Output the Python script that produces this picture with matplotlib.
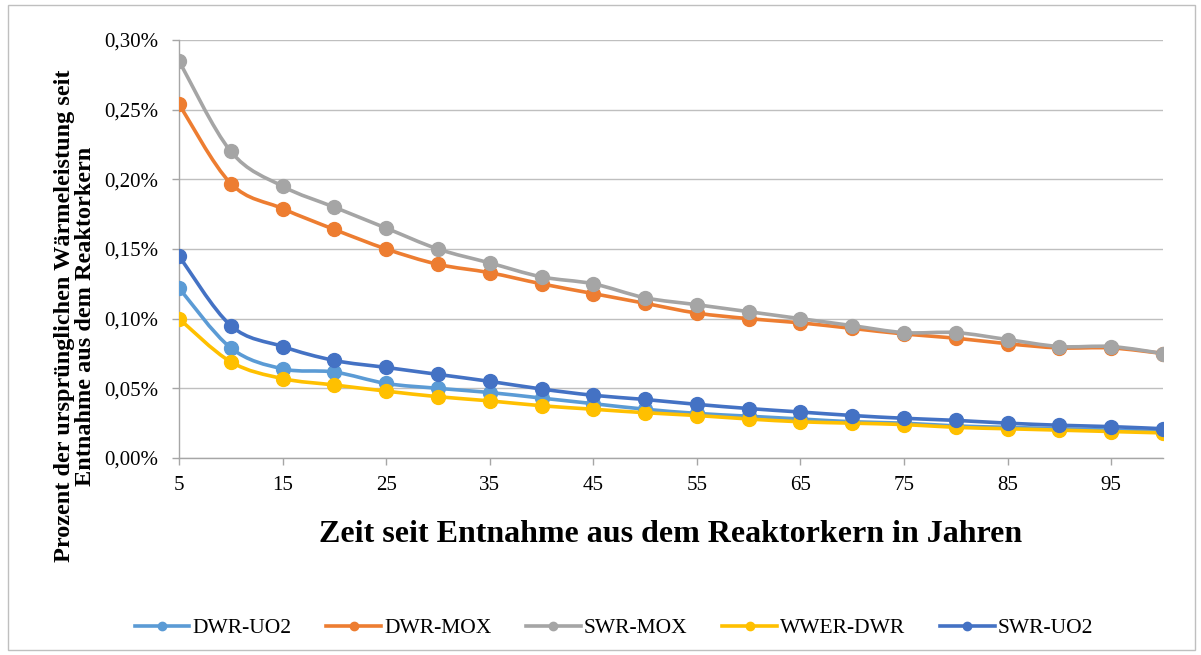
import numpy as np
import matplotlib
matplotlib.use("Agg")
import matplotlib.pyplot as plt
from matplotlib.path import Path
from matplotlib.patches import PathPatch, Rectangle
from matplotlib.lines import Line2D
from matplotlib.ticker import FuncFormatter

plt.rcParams['font.family'] = ['Liberation Serif', 'DejaVu Serif']

# Jahre seit Entnahme
years = [5, 10, 15, 20, 25, 30, 35, 40, 45, 50, 55, 60, 65, 70, 75, 80, 85, 90, 95, 100]

# Werte in Prozent
dwr_uo2 = [0.122, 0.079, 0.064, 0.0617, 0.0535, 0.050, 0.047, 0.043, 0.039, 0.035,
           0.032, 0.030, 0.028, 0.026, 0.025, 0.023, 0.022, 0.021, 0.020, 0.019]
dwr_mox = [0.254, 0.197, 0.179, 0.164, 0.150, 0.139, 0.133, 0.125, 0.118, 0.111,
           0.104, 0.100, 0.097, 0.093, 0.089, 0.086, 0.082, 0.079, 0.079, 0.075]
swr_mox = [0.285, 0.220, 0.195, 0.180, 0.165, 0.150, 0.140, 0.130, 0.125, 0.115,
           0.110, 0.105, 0.100, 0.095, 0.090, 0.090, 0.085, 0.080, 0.080, 0.075]
wwer_dwr = [0.100, 0.069, 0.057, 0.0524, 0.048, 0.044, 0.041, 0.0375, 0.035, 0.0325,
            0.0305, 0.028, 0.026, 0.025, 0.024, 0.022, 0.021, 0.020, 0.019, 0.018]
swr_uo2 = [0.145, 0.095, 0.080, 0.070, 0.065, 0.060, 0.055, 0.0495, 0.045, 0.042,
           0.0385, 0.0355, 0.033, 0.0305, 0.0285, 0.027, 0.025, 0.0235, 0.0225, 0.021]

names = ["DWR-UO2", "DWR-MOX", "SWR-MOX", "WWER-DWR", "SWR-UO2"]
series = [dwr_uo2, dwr_mox, swr_mox, wwer_dwr, swr_uo2]
colors = ["#5B9BD5", "#ED7D31", "#A5A5A5", "#FFC000", "#4472C4"]


def smooth_path(x, y, t=1/6):
    # Bezier-Kurve wie Excel "geglättete Linie"
    x = np.asarray(x, float)
    y = np.asarray(y, float)
    verts = [(x[0], y[0])]
    codes = [Path.MOVETO]
    n = len(x)
    for i in range(n - 1):
        p0 = np.array([x[max(i - 1, 0)], y[max(i - 1, 0)]])
        p1 = np.array([x[i], y[i]])
        p2 = np.array([x[i + 1], y[i + 1]])
        p3 = np.array([x[min(i + 2, n - 1)], y[min(i + 2, n - 1)]])
        c1 = p1 + (p2 - p0) * t
        c2 = p2 - (p3 - p1) * t
        verts += [tuple(c1), tuple(c2), tuple(p2)]
        codes += [Path.CURVE4] * 3
    return Path(verts, codes)


W, H = 1201, 655
fig = plt.figure(figsize=(W / 100, H / 100), dpi=100)
ax = fig.add_axes([179 / W, 1 - 458 / H, (1163 - 179) / W, (458 - 40) / H])

handles = []
for name, vals, c in zip(names, series, colors):
    ax.add_patch(PathPatch(smooth_path(years, vals), facecolor='none', edgecolor=c,
                           lw=2.6, zorder=3, capstyle='round'))
    ax.plot(years, vals, 'o', color=c, markersize=10, zorder=4)
    handles.append(Line2D([], [], color=c, lw=2.6, marker='o', markersize=6))

ax.set_xlim(5, 100)
ax.set_ylim(0, 0.30)
ax.set_xticks(range(5, 100, 10))
ax.set_yticks(np.arange(0, 0.301, 0.05))
ax.yaxis.set_major_formatter(FuncFormatter(lambda v, p: f"{v:.2f}".replace('.', ',') + "%"))
ax.grid(axis='y', color='#BFBFBF', lw=1)
ax.set_axisbelow(True)
for s in ['top', 'right']:
    ax.spines[s].set_visible(False)
for s in ['left', 'bottom']:
    ax.spines[s].set_color('#A6A6A6')
    ax.spines[s].set_linewidth(1)
ax.tick_params(axis='both', colors='#A6A6A6', labelcolor='black', labelsize=15,
               length=5, width=1)
ax.tick_params(axis='y', pad=10)
ax.tick_params(axis='x', pad=8)

fig.text(0.5 * (320 + 1022) / W, 1 - 542 / H,
         "Zeit seit Entnahme aus dem Reaktorkern in Jahren",
         fontsize=23, fontweight='bold', ha='center', va='baseline')
fig.text(75 / W, 1 - 316 / H,
         "Prozent der ursprünglichen Wärmeleistung seit\nEntnahme aus dem Reaktorkern",
         fontsize=17.5, fontweight='bold', rotation=90, ha='center', va='center',
         multialignment='center', linespacing=1.0)

fig.legend(handles, names, loc='center', bbox_to_anchor=(614 / W, 1 - 628 / H), ncol=5,
           frameon=False, fontsize=15.5, handlelength=2.55, columnspacing=1.6,
           handletextpad=0.15, borderpad=0)

fig.patches.append(Rectangle((8 / W, 5 / H), 1187 / W, 645 / H,
                             transform=fig.transFigure, fill=False, edgecolor='#BFBFBF', lw=1))

fig.savefig("out.png", dpi=100)
